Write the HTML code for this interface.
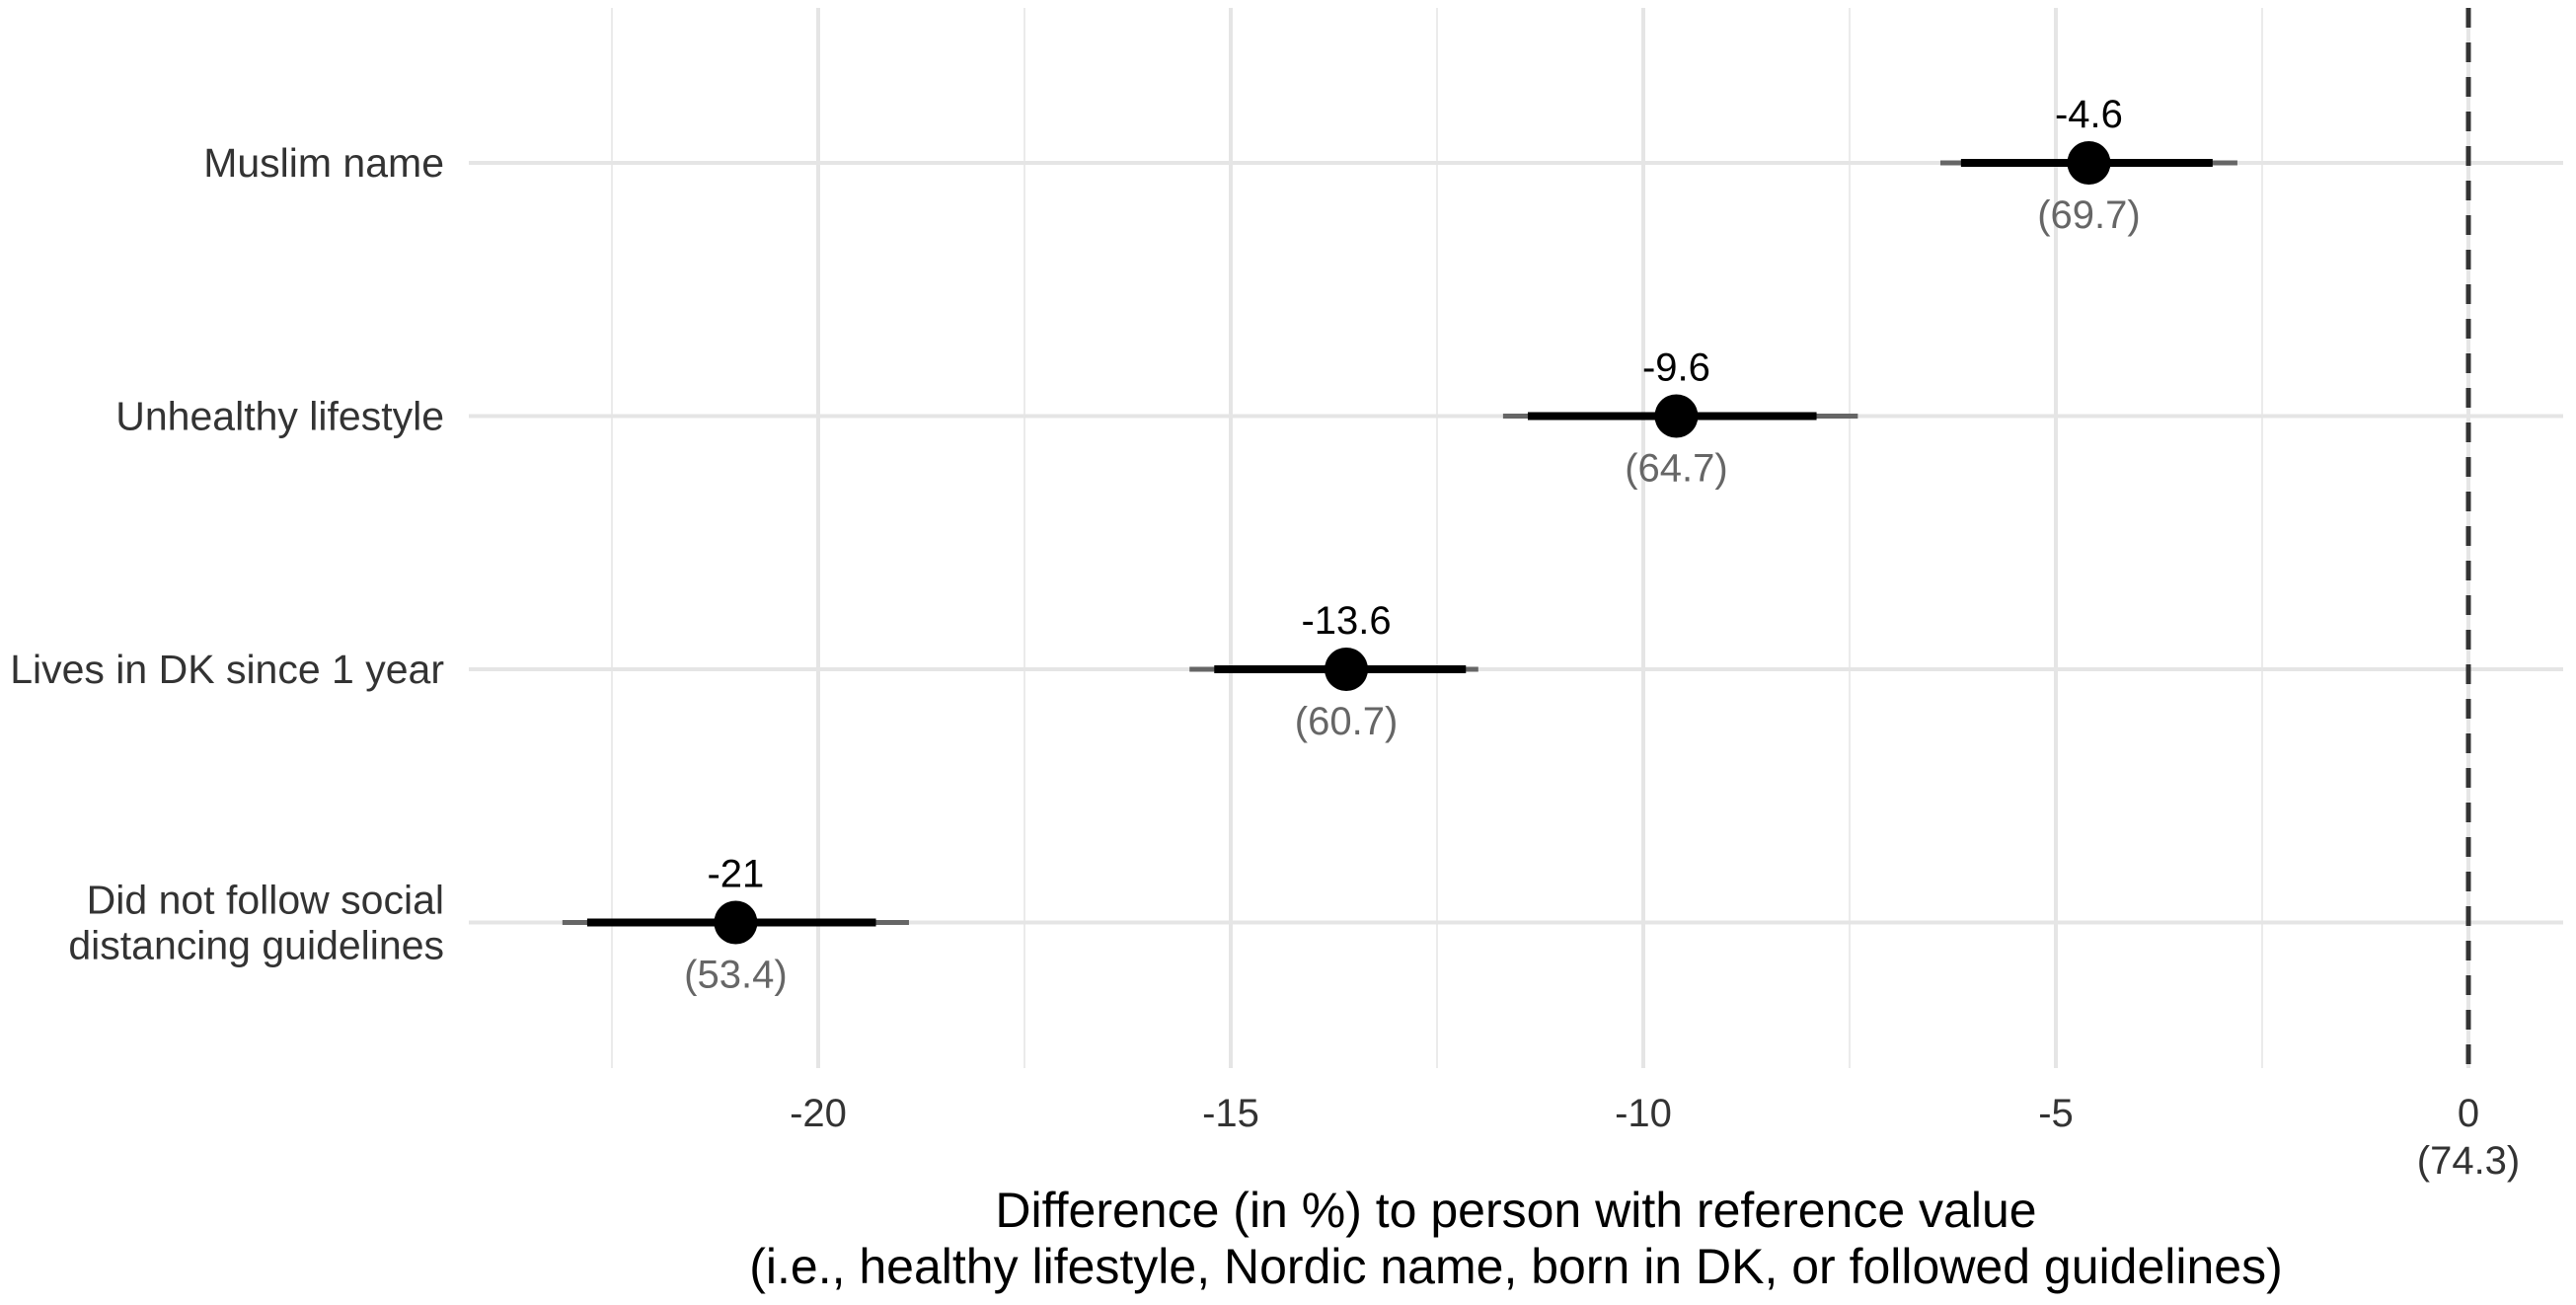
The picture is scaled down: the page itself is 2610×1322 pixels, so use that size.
<!DOCTYPE html>
<html><head><meta charset="utf-8"><style>
html,body{margin:0;padding:0;background:#fff;}
svg{display:block;font-family:"Liberation Sans",Arial,sans-serif;}
</style></head><body>
<svg id="chart" width="2610" height="1322" viewBox="0 0 2610 1322"></svg>
<script>
const categories = ["Muslim name","Unhealthy lifestyle","Lives in DK since 1 year","Did not follow social distancing guidelines"];
const estimates = [-4.6, -9.6, -13.6, -21];
const levels = ["(69.7)","(64.7)","(60.7)","(53.4)"];
const innerLow = [-6.15, -11.4, -15.2, -22.8];
const innerHigh = [-3.1, -7.9, -12.15, -19.3];
const outerLow = [-6.4, -11.7, -15.5, -23.1];
const outerHigh = [-2.8, -7.4, -12.0, -18.9];
const xTicks = [-20, -15, -10, -5, 0];
const xMinor = [-22.5, -17.5, -12.5, -7.5, -2.5];
const refLabel = "(74.3)";

const NS = "http://www.w3.org/2000/svg";
const svg = document.getElementById('chart');
const L = 475, R = 2597, T = 8, B = 1082;
function xs(v){ return 2501 + v * 83.6; }
function ys(i){ return 165 + i * 256.5; }
function mk(tag, attrs, parent){
  const e = document.createElementNS(NS, tag);
  for (const k in attrs) e.setAttribute(k, attrs[k]);
  (parent || svg).appendChild(e);
  return e;
}
const grid = mk('g', {});


xMinor.forEach(v => {
  const l = mk('line', {x1: xs(v), x2: xs(v), y1: T, y2: B, stroke: '#ebebeb', 'stroke-width': 2}, grid);
  
  
});
xTicks.forEach(v => {
  const l = mk('line', {x1: xs(v), x2: xs(v), y1: T, y2: B, stroke: '#e5e5e5', 'stroke-width': 4}, grid);
  
  
});
categories.forEach((c, i) => {
  const l = mk('line', {x1: L, x2: R, y1: ys(i), y2: ys(i), stroke: '#e5e5e5', 'stroke-width': 4}, grid);
  
  
});
const ref = mk('line', {x1: xs(0), x2: xs(0), y1: T, y2: B, stroke: '#333', 'stroke-width': 5, 'stroke-dasharray': '20 15'});



categories.forEach((c, i) => {
  const y = ys(i);
  const g = mk('g', {});
  
  
  const o = mk('line', {x1: xs(outerLow[i]), x2: xs(outerHigh[i]), y1: y, y2: y, stroke: '#666', 'stroke-width': 5}, g);
  
  
  const n = mk('line', {x1: xs(innerLow[i]), x2: xs(innerHigh[i]), y1: y, y2: y, stroke: '#000', 'stroke-width': 8}, g);
  
  
  const p = mk('circle', {cx: xs(estimates[i]), cy: y, r: 22, fill: '#000'}, g);
  
  
  const t1 = mk('text', {x: xs(estimates[i]), y: y - 36, 'text-anchor': 'middle', 'font-size': 40, fill: '#000'}, g);
  t1.textContent = String(estimates[i]);
  
  
  const t2 = mk('text', {x: xs(estimates[i]), y: y + 66, 'text-anchor': 'middle', 'font-size': 40, fill: '#666'}, g);
  t2.textContent = levels[i];
  
  
  const words = c === "Did not follow social distancing guidelines" ? ["Did not follow social", "distancing guidelines"] : [c];
  const lab = mk('text', {x: 450, 'text-anchor': 'end', 'font-size': 41, fill: '#333'});
  
  
  words.forEach((w, k) => {
    const ts = mk('tspan', {x: 450, y: y + 14 + (k - (words.length - 1) / 2) * 46}, lab);
    ts.textContent = w;
  });
});

xTicks.forEach(v => {
  const t = mk('text', {x: xs(v), y: 1141, 'text-anchor': 'middle', 'font-size': 40, fill: '#333'});
  t.textContent = String(v);
  
  
});
const rl = mk('text', {x: xs(0), y: 1189, 'text-anchor': 'middle', 'font-size': 40, fill: '#333'});
rl.textContent = refLabel;



const xt = mk('text', {'text-anchor': 'middle', 'font-size': 50, fill: '#000'});


const a = mk('tspan', {x: 1536, y: 1243}, xt); a.textContent = "Difference (in %) to person with reference value";
const b = mk('tspan', {x: 1536, y: 1300}, xt); b.textContent = "(i.e., healthy lifestyle, Nordic name, born in DK, or followed guidelines)";
</script>
</body></html>
